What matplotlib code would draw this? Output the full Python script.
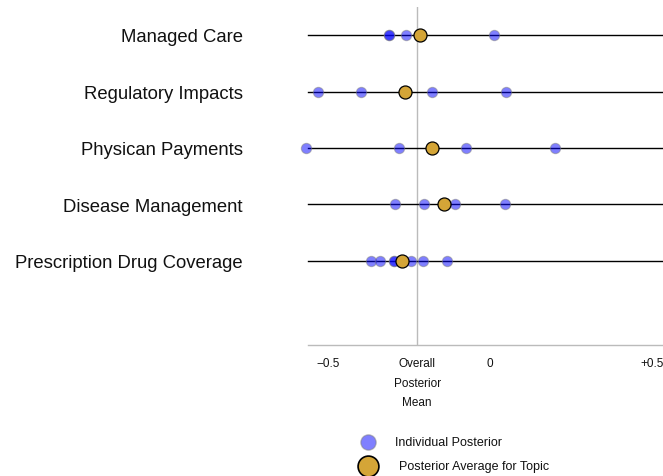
import matplotlib
matplotlib.use("Agg")
import matplotlib.pyplot as plt

topics = ["Managed Care", "Regulatory Impacts", "Physican Payments",
          "Disease Management", "Prescription Drug Coverage"]
individual = [
    [-0.311, -0.311, -0.260, 0.012],
    [-0.531, -0.397, -0.179, 0.048],
    [-0.569, -0.281, -0.075, 0.202],
    [-0.292, -0.203, -0.109, 0.045],
    [-0.369, -0.340, -0.296, -0.296, -0.245, -0.207, -0.132],
]
topic_avg = [-0.216, -0.262, -0.180, -0.141, -0.273]
overall_mean = -0.225
tick_vals = [-0.5, overall_mean, 0, 0.5]
tick_labels = ["\u22120.5", "Overall\nPosterior\nMean", "0", "+0.5"]

plt.rcParams['font.family'] = ['Liberation Sans', 'DejaVu Sans']
W, H = 663, 477
fig = plt.figure(figsize=(W/100, H/100), dpi=100)
ax_l, ax_r, ax_t, ax_b = 308, 663, 8, 345.7
ax = fig.add_axes([ax_l/W, 1-ax_b/H, (ax_r-ax_l)/W, (ax_b-ax_t)/H])
ax.set_xlim(-0.562, 0.534)
ax.set_ylim(-0.49, 5.5)

n = len(topics)
for i, t in enumerate(topics):
    y = n - i
    ax.plot([-0.562, 0.6], [y, y], color='black', lw=1.0, zorder=1, clip_on=False)
    ax.scatter(individual[i], [y]*len(individual[i]), s=55, color='blue', alpha=0.5,
               edgecolors='gray', linewidths=0.8, zorder=3, clip_on=False)
    ax.scatter([topic_avg[i]], [y], s=88, color='#d4a537', edgecolors='black',
               linewidths=0.9, zorder=4, clip_on=False)
    fig.text(243/W, 1-(38 + i*56.4)/H, t, ha='right', va='center', fontsize=13.3,
             color='#111111')

ax.axvline(overall_mean, color='#bbbbbb', lw=1.0, zorder=0)
for s in ['top', 'right', 'left']:
    ax.spines[s].set_visible(False)
ax.spines['bottom'].set_color('#bbbbbb')
ax.spines['bottom'].set_linewidth(1.0)
ax.set_yticks([])
ax.set_xticks(tick_vals)
ax.set_xticklabels(tick_labels, fontsize=8.5, linespacing=1.85, color='#111111')
ax.tick_params(axis='x', length=0, pad=9)

# legend
fig.add_artist(plt.Line2D([368/W], [1-443/H], marker='o', markersize=11, color='blue',
                          alpha=0.5, markeredgecolor='gray', linestyle='none'))
fig.add_artist(plt.Line2D([368/W], [1-466.7/H], marker='o', markersize=15,
                          markerfacecolor='#d4a537', markeredgecolor='black',
                          markeredgewidth=1.2, linestyle='none'))
fig.text(395/W, 1-443/H, "Individual Posterior", ha='left', va='center', fontsize=9,
         color='#111111')
fig.text(399/W, 1-466.7/H, "Posterior Average for Topic", ha='left', va='center', fontsize=9,
         color='#111111')

fig.savefig("out.png", dpi=100)
